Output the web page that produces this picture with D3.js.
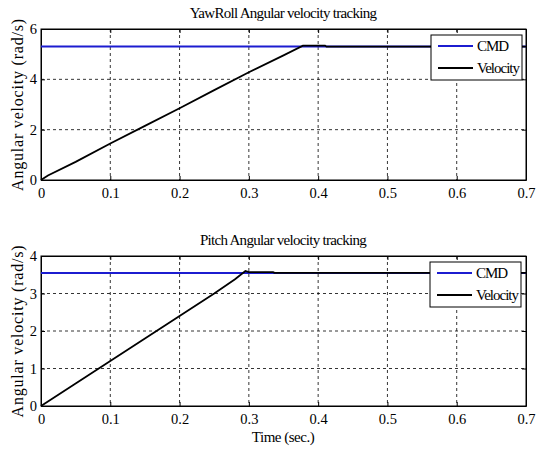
<!DOCTYPE html>
<html><head><meta charset="utf-8">
<script src="https://cdn.jsdelivr.net/npm/d3@7"></script>
<style>body{margin:0;background:#fff}svg{display:block}svg text{font-family:"Liberation Serif","Times New Roman",serif;fill:#000}</style>
</head><body>
<script>
// ---- data ----
const xTicks = [0, 0.1, 0.2, 0.3, 0.4, 0.5, 0.6, 0.7];
const xTickLabels = ["0", "0.1", "0.2", "0.3", "0.4", "0.5", "0.6", "0.7"];
const topTitle = "YawRoll Angular velocity tracking";
const botTitle = "Pitch Angular velocity tracking";
const yLabel = "Angular velocity (rad/s)";
const xLabel = "Time (sec.)";
const seriesNames = ["CMD", "Velocity"];
const topYTicks = [0, 2, 4, 6];
const botYTicks = [0, 1, 2, 3, 4];
const topCmdT = [0, 0.7];
const topCmdV = [5.3, 5.3];
const topVelT = [0, 0.01, 0.05, 0.1, 0.15, 0.2, 0.25, 0.3, 0.35, 0.378, 0.41, 0.412, 0.7];
const topVelV = [0, 0.18, 0.72, 1.45, 2.15, 2.85, 3.57, 4.28, 4.95, 5.34, 5.34, 5.3, 5.3];
const botCmdT = [0, 0.7];
const botCmdV = [3.55, 3.55];
const botVelT = [0, 0.01, 0.05, 0.1, 0.15, 0.2, 0.25, 0.28, 0.295, 0.3, 0.335, 0.337, 0.7];
const botVelV = [0, 0.12, 0.6, 1.2, 1.8, 2.4, 3.0, 3.38, 3.6, 3.57, 3.57, 3.55, 3.55];

const W = 546, H = 454;
const svg = d3.select("body").append("svg").attr("width", W).attr("height", H);
const BLUE = "#1c1cd0";

function panel(cfg) {
  const x = d3.scaleLinear().domain([0, 0.7]).range([41, 526]);
  const y = d3.scaleLinear().domain([0, cfg.yMax]).range([cfg.bottom, cfg.top]);
  const g = svg.append("g");
  // grid
  g.selectAll(".gx").data(xTicks.slice(1, -1)).enter().append("line")
    .attr("x1", d => x(d)).attr("x2", d => x(d)).attr("y1", cfg.top).attr("y2", cfg.bottom)
    .attr("stroke", "#000").attr("stroke-width", 0.8).attr("stroke-dasharray", "3,3");
  g.selectAll(".gy").data(cfg.yTicks.slice(1, -1)).enter().append("line")
    .attr("x1", 41).attr("x2", 526).attr("y1", d => y(d)).attr("y2", d => y(d))
    .attr("stroke", "#000").attr("stroke-width", 0.8).attr("stroke-dasharray", "3,3");
  // axes
  const ax = g.append("g").attr("transform", `translate(0,${cfg.bottom})`)
    .call(d3.axisBottom(x).tickValues(xTicks).tickFormat((d, i) => xTickLabels[i]).tickSizeInner(-4).tickSizeOuter(0).tickPadding(8));
  const axT = g.append("g").attr("transform", `translate(0,${cfg.top})`)
    .call(d3.axisTop(x).tickValues(xTicks).tickFormat("").tickSizeInner(-4).tickSizeOuter(0));
  const ay = g.append("g").attr("transform", `translate(41,0)`)
    .call(d3.axisLeft(y).tickValues(cfg.yTicks).tickFormat(d3.format("d")).tickSizeInner(-4).tickSizeOuter(0).tickPadding(4));
  const ayR = g.append("g").attr("transform", `translate(526,0)`)
    .call(d3.axisRight(y).tickValues(cfg.yTicks).tickFormat("").tickSizeInner(-4).tickSizeOuter(0));
  [ax, axT, ay, ayR].forEach(a => {
    a.attr("font-family", null);
    a.selectAll("path.domain").attr("stroke", "#000").attr("stroke-width", 1);
    a.selectAll("line").attr("stroke", "#000");
    a.selectAll("text").style("font-size", "14.5px").attr("fill", "#000");
  });
  g.append("rect").attr("x", 41).attr("y", cfg.top).attr("width", 485).attr("height", cfg.bottom - cfg.top)
    .attr("fill", "none").attr("stroke", "#000").attr("stroke-width", 1);
  // lines
  const line = d3.line().x(d => x(d[0])).y(d => y(d[1]));
  g.append("path").datum(cfg.cmdT.map((t, i) => [t, cfg.cmdV[i]]))
    .attr("d", line).attr("fill", "none").attr("stroke", BLUE).attr("stroke-width", 2);
  g.append("path").datum(cfg.velT.map((t, i) => [t, cfg.velV[i]]))
    .attr("d", line).attr("fill", "none").attr("stroke", "#000").attr("stroke-width", 1.8);
  // title
  g.append("text").attr("x", 283).attr("y", cfg.top - 11).attr("text-anchor", "middle")
    .style("font-size", "15px").style("letter-spacing", "-0.7px").text(cfg.title);
  // ylabel
  g.append("text").attr("transform", `translate(23,${(cfg.top + cfg.bottom) / 2}) rotate(-90)`)
    .attr("text-anchor", "middle").style("font-size", "16px").style("letter-spacing", "0.8px")
    .text(yLabel);
  // legend
  const L = cfg.legend;
  const lg = g.append("g");
  lg.append("rect").attr("x", L.x).attr("y", L.y).attr("width", 91).attr("height", 45)
    .attr("fill", "#fff").attr("stroke", "#000").attr("stroke-width", 1);
  const colors = [BLUE, "#000"];
  seriesNames.forEach((n, i) => {
    const yy = L.y + 11 + i * 22;
    lg.append("line").attr("x1", L.x + 7).attr("x2", L.x + 42).attr("y1", yy).attr("y2", yy)
      .attr("stroke", colors[i]).attr("stroke-width", 2);
    lg.append("text").attr("x", L.x + 46).attr("y", yy + 5).style("font-size", "15px")
      .style("letter-spacing", "-1px").text(n);
  });
}

panel({top: 29, bottom: 180, yMax: 6, yTicks: topYTicks, cmdT: topCmdT, cmdV: topCmdV, velT: topVelT, velV: topVelV,
  title: topTitle, legend: {x: 431, y: 35}});
panel({top: 256, bottom: 406, yMax: 4, yTicks: botYTicks, cmdT: botCmdT, cmdV: botCmdV, velT: botVelT, velV: botVelV,
  title: botTitle, legend: {x: 430, y: 262}});

svg.append("text").attr("x", 283).attr("y", 442).attr("text-anchor", "middle")
  .style("font-size", "15px").style("letter-spacing", "-0.5px").text(xLabel);
</script>
</body></html>
